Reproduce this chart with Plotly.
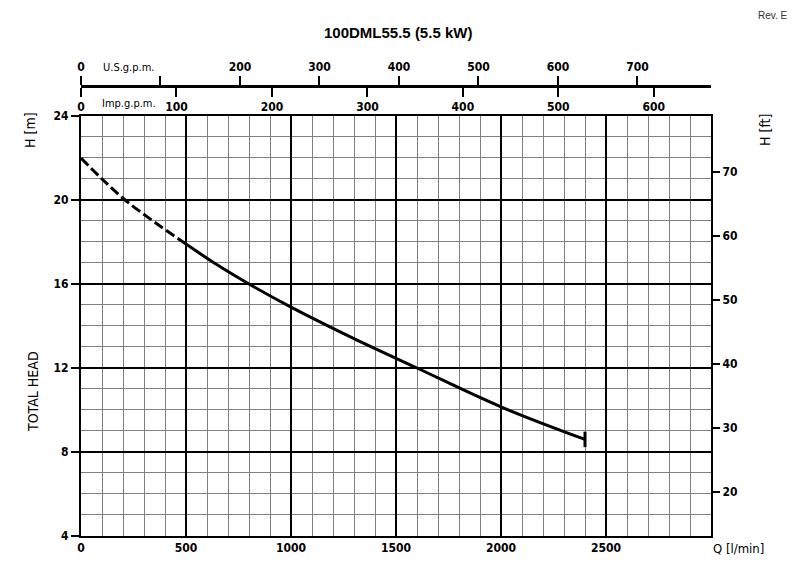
import plotly.graph_objects as go

# Pump curve (Q in l/min, H in m)
q_dashed = [0, 100, 210, 350, 500]
h_dashed = [22.0, 21.0, 20.0, 18.95, 17.9]
q_solid = [500, 650, 800, 1000, 1300, 1600, 2000, 2400]
h_solid = [17.9, 16.9, 16.0, 14.9, 13.4, 12.0, 10.15, 8.6]

q_ticks = [0, 500, 1000, 1500, 2000, 2500]
h_ticks = [4, 8, 12, 16, 20, 24]
ft_ticks = [20, 30, 40, 50, 60, 70]
us_ticks = [0, 100, 200, 300, 400, 500, 600, 700]
us_text = ["0", "", "200", "300", "400", "500", "600", "700"]
imp_ticks = [0, 100, 200, 300, 400, 500, 600]

Q_MAX = 3000
M_PER_FT = 0.3048
L_PER_USG = 3.785411784
L_PER_IMPG = 4.54609

FONT = "Liberation Sans Narrow, DejaVu Sans Condensed, Arial Narrow, sans-serif"
TOP = 0.8468
AX_POS = 0.9073

fig = go.Figure()
fig.add_trace(go.Scatter(x=q_dashed, y=h_dashed, mode="lines", line_shape="spline",
                         line=dict(color="black", width=3, dash="10px,4px")))
fig.add_trace(go.Scatter(x=q_solid, y=h_solid, mode="lines", line_shape="spline",
                         line=dict(color="black", width=3)))
fig.add_trace(go.Scatter(x=q_solid[-1:], y=h_solid[-1:], mode="markers",
                         marker=dict(symbol="line-ns-open", size=11, color="black",
                                     line=dict(width=3, color="black"))))
# empty traces so the secondary scales get drawn
fig.add_trace(go.Scatter(x=[], y=[], xaxis="x2", yaxis="y"))
fig.add_trace(go.Scatter(x=[], y=[], xaxis="x3", yaxis="y"))
fig.add_trace(go.Scatter(x=[], y=[], xaxis="x", yaxis="y2"))

tickfont = dict(family=FONT, size=12, color="black", weight="bold")

fig.update_layout(
    width=800, height=565,
    # page body adds 8px offset, so margins are shifted by 8px
    margin=dict(l=73, r=97, t=32, b=37),
    paper_bgcolor="white", plot_bgcolor="white",
    showlegend=False,
    xaxis=dict(range=[0, Q_MAX], tickvals=q_ticks, showgrid=True, gridcolor="black",
               gridwidth=2, minor=dict(dtick=100, showgrid=True, gridcolor="#808080", gridwidth=1),
               showline=True, linecolor="black", linewidth=2, mirror=True,
               ticks="", tickfont=tickfont, zeroline=False),
    yaxis=dict(domain=[0, TOP], range=[4, 24], tickvals=h_ticks, showgrid=True,
               gridcolor="black", gridwidth=2,
               minor=dict(dtick=1, showgrid=True, gridcolor="#808080", gridwidth=1),
               showline=True, linecolor="black", linewidth=2, mirror=True,
               ticks="outside", ticklen=8, tickwidth=2, tickcolor="black",
               tickfont=tickfont, zeroline=False),
    yaxis2=dict(domain=[0, TOP], overlaying="y", side="right", anchor="x",
                range=[4 / M_PER_FT, 24 / M_PER_FT], tickvals=ft_ticks, showgrid=False,
                ticks="outside", ticklen=8, tickwidth=2, tickcolor="black",
                tickfont=tickfont, zeroline=False),
    xaxis2=dict(overlaying="x", anchor="free", position=AX_POS, side="top",
                range=[0, Q_MAX / L_PER_USG], tickvals=us_ticks, ticktext=us_text,
                showgrid=False, showline=True, linecolor="black", linewidth=3,
                ticks="outside", ticklen=9, tickwidth=2, tickcolor="black",
                tickfont=tickfont, zeroline=False),
    xaxis3=dict(overlaying="x", anchor="free", position=AX_POS, side="bottom",
                range=[0, Q_MAX / L_PER_IMPG], tickvals=imp_ticks,
                showgrid=False, showline=True, linecolor="black", linewidth=3,
                ticks="outside", ticklen=9, tickwidth=2, tickcolor="black",
                tickfont=tickfont, zeroline=False),
)


def px_x(sx):
    return (sx - 81) / 630


def px_y(sy):
    return (536 - sy) / 496


labels = [
    ("H [m]", 30, 130, -90, "center", 14),
    ("TOTAL HEAD", 33, 391, -90, "center", 14),
    ("H [ft]", 765, 130, -90, "center", 14),
    ("Q [l/min]", 738, 548, 0, "center", 13),
    ("U.S.g.p.m.", 101, 67, 0, "left", 11),
    ("Imp.g.p.m.", 100, 103, 0, "left", 11),
]
for text, sx, sy, ang, anc, size in labels:
    fig.add_annotation(text=text, x=px_x(sx), y=px_y(sy), xref="paper", yref="paper",
                       showarrow=False, textangle=ang, xanchor=anc, yanchor="middle",
                       font=dict(family=FONT, size=size, color="black"))

fig.add_annotation(text="<b>100DML55.5 (5.5 kW)</b>", x=px_x(398), y=px_y(32),
                   xref="paper", yref="paper", showarrow=False, yanchor="middle",
                   font=dict(family="Liberation Sans, Arial, sans-serif", size=15, color="black"))
fig.add_annotation(text="Rev. E", x=px_x(790), y=px_y(8), xref="paper", yref="paper",
                   showarrow=False, xanchor="right", yanchor="top",
                   font=dict(family="Liberation Sans, Arial, sans-serif", size=10, color="#333"))

fig.write_html("out.html")
